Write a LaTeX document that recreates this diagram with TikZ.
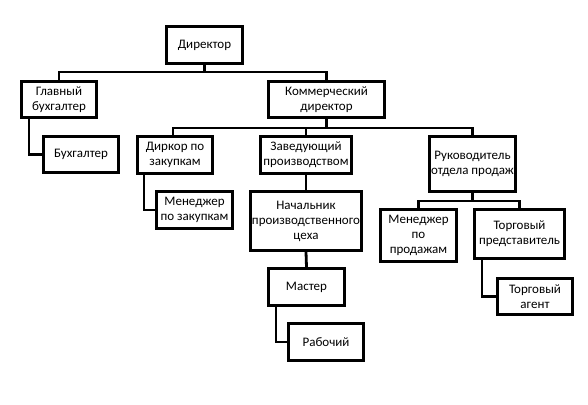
\documentclass[tikz,border=0pt]{standalone}
\usepackage{fontspec}
\setmainfont{Carlito}
\usetikzlibrary{positioning}

\begin{document}
\begin{tikzpicture}[x=1pt,y=-1pt,
  box/.style={draw,line width=3pt,minimum height=36pt,inner sep=0pt,
    align=center,font=\fontsize{13}{15}\selectfont},
  link/.style={line width=2.8pt}]
  \useasboundingbox (0,0) rectangle (588,404);
  \node[box,minimum width=76pt] (dir) at (204.5,45) {Директор};
  \node[box,minimum width=75pt] (glbuh) at (59,99.5) {Главный\\бухгалтер};
  \node[box,minimum width=116pt] (komdir) at (326.5,99.5) {Коммерческий\\директор};
  \node[box,minimum width=75pt] (buh) at (81,154.5) {Бухгалтер};
  \node[box,minimum width=75pt,minimum height=37pt] (zakdir) at (175,155) {Диркор по\\закупкам};
  \node[box,minimum width=91pt,minimum height=37pt] (zav) at (306,155) {Заведующий\\производством};
  \node[box,minimum width=86pt,minimum height=55pt] (ruk) at (472.5,164) {Руководитель\\отдела продаж};
  \node[box,minimum width=76pt,minimum height=37pt] (menzak) at (194.5,210) {Менеджер\\по закупкам};
  \node[box,minimum width=111pt,minimum height=59pt] (nach) at (306,221) {Начальник\\производственного\\цеха};
  \node[box,minimum width=76pt,minimum height=37pt] (master) at (306.5,287) {Мастер};
  \node[box,minimum width=75pt,minimum height=37pt] (rab) at (326,342) {Рабочий};
  \node[box,minimum width=76pt,minimum height=52pt] (menprod) at (418.5,235.5) {Менеджер\\по\\продажам};
  \node[box,minimum width=90pt,minimum height=49pt] (torgpr) at (519.5,234) {Торговый\\представитель};
  \node[box,minimum width=75pt] (agent) at (535,296.5) {Торговый\\агент};
  % шины
  \coordinate (bus1) at (204.5,72);
  \coordinate (bus2) at (326.5,128);
  \coordinate (bus3) at (472.5,201);
  \draw[link] (dir.south) -- (bus1);
  \draw[link] (glbuh.north) |- (bus1) -| (komdir.north);
  \draw[link] (komdir.south) -- (bus2);
  \draw[link] ([xshift=-2pt]zakdir.north) |- (bus2) -| (ruk.north);
  \draw[link] (zav.north) -- (zav.north |- bus2);
  \draw[link] (ruk.south) -- (bus3);
  \draw[link] (menprod.north) |- (bus3) -| (torgpr.north);
  % вертикальные связи
  \draw[link] (zav.south) -- (nach.north);
  \draw[link] (nach.south) -- (master.north);
  \draw[link] ([xshift=9pt]glbuh.south west) |- (buh.west);
  \draw[link] ([xshift=8pt]zakdir.south west) |- (menzak.west);
  \draw[link] ([xshift=9pt]master.south west) |- (rab.west);
  \draw[link] ([xshift=9pt]torgpr.south west) |- (agent.west);
\end{tikzpicture}
\end{document}
